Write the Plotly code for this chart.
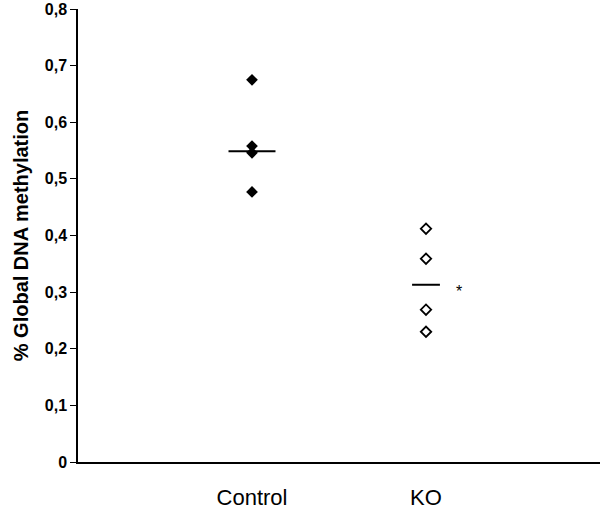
import plotly.graph_objects as go

categories = ["Control", "KO"]
control_values = [0.675, 0.558, 0.546, 0.477]
ko_values = [0.412, 0.359, 0.269, 0.230]
group_lines = [0.549, 0.313]
y_tick_vals = [0, 0.1, 0.2, 0.3, 0.4, 0.5, 0.6, 0.7, 0.8]
y_tick_text = ["0", "0,1", "0,2", "0,3", "0,4", "0,5", "0,6", "0,7", "0,8"]
signif_label = "*"

xpos = {c: i + 1 for i, c in enumerate(categories)}

fig = go.Figure()
fig.add_trace(go.Scatter(
    x=[xpos["Control"]] * len(control_values), y=control_values, mode="markers",
    marker=dict(symbol="diamond", size=9, color="black"), showlegend=False))
fig.add_trace(go.Scatter(
    x=[xpos["KO"]] * len(ko_values), y=ko_values, mode="markers",
    marker=dict(symbol="diamond-open", size=8, color="black", line=dict(width=1.8)),
    showlegend=False))
half = [0.135, 0.08]
for c, v, h in zip(categories, group_lines, half):
    fig.add_trace(go.Scatter(x=[xpos[c] - h, xpos[c] + h], y=[v, v], mode="lines",
                             line=dict(color="black", width=2), showlegend=False))
fig.add_trace(go.Scatter(x=[xpos["KO"] + 0.19], y=[group_lines[1]], mode="text",
                         text=[signif_label], textposition="bottom center",
                         textfont=dict(size=16, color="black", family="Liberation Sans"),
                         showlegend=False))

fig.update_layout(
    width=600, height=514,
    margin=dict(l=78, r=0, t=9, b=52),
    plot_bgcolor="white", paper_bgcolor="white",
    font=dict(family="Liberation Sans, Arial", color="black"),
    xaxis=dict(range=[0, 3], tickvals=[xpos[c] for c in categories], ticktext=categories,
               showline=True, linecolor="black", linewidth=1.5, ticks="",
               showgrid=False, zeroline=False, tickfont=dict(size=22),
               ticklabelstandoff=15),
    yaxis=dict(range=[0, 0.8], tickvals=y_tick_vals, ticktext=y_tick_text,
               showline=True, linecolor="black", linewidth=1.5, ticks="outside",
               ticklen=6, tickwidth=1.2, tickcolor="black",
               showgrid=False, zeroline=False, ticklabeloverflow="allow",
               tickfont=dict(size=16, family="Liberation Sans", weight="bold"),
               title=dict(text="<b>% Global DNA methylation</b>", font=dict(size=20),
                          standoff=11)),
)
fig.write_html("out.html", config={"displayModeBar": False},
               post_script="document.body.style.margin='0';")
